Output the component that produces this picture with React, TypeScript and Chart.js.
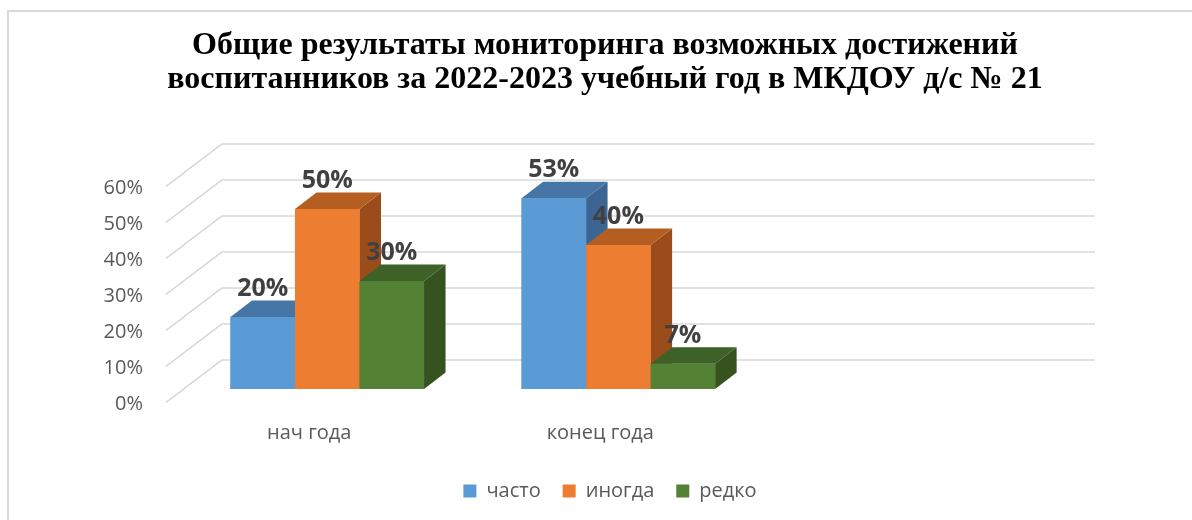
import React, { useEffect, useRef } from 'react';
import { Chart, registerables } from 'chart.js';

Chart.register(...registerables);

const titleLines = [
  'Общие результаты мониторинга возможных достижений',
  'воспитанников за 2022-2023 учебный год в МКДОУ д/с № 21',
];
const categories = ['нач года', 'конец года', ''];
const seriesNames = ['часто', 'иногда', 'редко'];
const chastoValues = [20, 53, null];
const inogdaValues = [50, 40, null];
const redkoValues = [30, 7, null];
const yMin = 0;
const yMax = 60;
const yStep = 10;

const frontColors = ['#5B9BD5', '#ED7D31', '#548235'];
const topColors = ['#4676A5', '#B55E22', '#3E6128'];
const sideColors = ['#3B6592', '#9A4D1B', '#35521F'];

// 3D geometry
const BAR_DX = 21.5;
const BAR_DY = -16.5;
const FLOOR_DX = -16;
const FLOOR_DY = 13.7;
const WALL_DX = 56;
const WALL_DY = -42.7;
const LEGEND_SHIFT = 5;

const threeD = {
  id: 'threeD',
  afterLayout(chart: any) {
    const l = chart.legend;
    if (l) {
      l.left += LEGEND_SHIFT;
      l.right += LEGEND_SHIFT;
    }
  },
  beforeDatasetsDraw(chart: any) {
    const { ctx, chartArea, scales } = chart;
    const y = scales.y;
    ctx.save();
    ctx.strokeStyle = '#D9D9D9';
    ctx.lineWidth = 1.6;
    y.ticks.forEach((t: any) => {
      const yb = y.getPixelForValue(t.value);
      const fx = chartArea.left + FLOOR_DX;
      const fy = yb + FLOOR_DY;
      const bx = fx + WALL_DX;
      const by = fy + WALL_DY;
      const ex = chartArea.right + FLOOR_DX + WALL_DX;
      ctx.beginPath();
      ctx.moveTo(fx, fy);
      ctx.lineTo(bx, by);
      ctx.lineTo(ex, by);
      ctx.stroke();
    });
    ctx.restore();
  },
  afterDatasetsDraw(chart: any) {
    const { ctx } = chart;
    const n = chart.data.datasets.length;
    const count = chart.data.labels.length;
    ctx.save();
    for (let idx = 0; idx < count; idx++) {
      for (let i = 0; i < n; i++) {
        const v = chart.data.datasets[i].data[idx];
        if (v === null || v === undefined) continue;
        const el = chart.getDatasetMeta(i).data[idx];
        const { x, y, base, width } = el.getProps(['x', 'y', 'base', 'width'], true);
        const xl = x - width / 2;
        const xr = x + width / 2;
        ctx.fillStyle = sideColors[i];
        ctx.beginPath();
        ctx.moveTo(xr, y);
        ctx.lineTo(xr + BAR_DX, y + BAR_DY);
        ctx.lineTo(xr + BAR_DX, base + BAR_DY);
        ctx.lineTo(xr, base);
        ctx.closePath();
        ctx.fill();
        ctx.fillStyle = topColors[i];
        ctx.beginPath();
        ctx.moveTo(xl, y);
        ctx.lineTo(xl + BAR_DX, y + BAR_DY);
        ctx.lineTo(xr + BAR_DX, y + BAR_DY);
        ctx.lineTo(xr, y);
        ctx.closePath();
        ctx.fill();
        el.draw(ctx);
      }
    }
    ctx.fillStyle = '#404040';
    ctx.font = "bold 25px 'Open Sans', sans-serif";
    ctx.textAlign = 'center';
    ctx.textBaseline = 'middle';
    for (let i = 0; i < n; i++) {
      const meta = chart.getDatasetMeta(i);
      chart.data.datasets[i].data.forEach((v: any, idx: number) => {
        if (v === null || v === undefined) return;
        const el = meta.data[idx];
        const { x, y } = el.getProps(['x', 'y'], true);
        ctx.fillText(v + '%', x, y + BAR_DY - 11.5);
      });
    }
    ctx.restore();
  },
};

export default function App() {
  const ref = useRef<HTMLCanvasElement>(null);
  useEffect(() => {
    if (!ref.current) return;
    const axisFont = { family: "'Open Sans', sans-serif", size: 20 };
    const chart = new Chart(ref.current, {
      type: 'bar',
      data: {
        labels: categories,
        datasets: [
          { label: seriesNames[0], data: chastoValues, backgroundColor: frontColors[0] },
          { label: seriesNames[1], data: inogdaValues, backgroundColor: frontColors[1] },
          { label: seriesNames[2], data: redkoValues, backgroundColor: frontColors[2] },
        ],
      },
      options: {
        responsive: false,
        animation: false,
        devicePixelRatio: 1,
        layout: { padding: { left: 0, right: 0, top: 0, bottom: 9 } },
        datasets: { bar: { categoryPercentage: 0.665, barPercentage: 1 } },
        plugins: {
          title: {
            display: true,
            text: titleLines,
            color: '#000000',
            font: { family: "'Liberation Serif', 'Times New Roman', serif", size: 32, weight: 'bold', lineHeight: 1.0625 },
            padding: { top: 17, bottom: 76 },
          },
          legend: {
            position: 'bottom',
            labels: {
              boxWidth: 13,
              boxHeight: 13,
              padding: 22,
              color: '#595959',
              font: axisFont,
            },
          },
          tooltip: { enabled: false },
        },
        scales: {
          x: {
            grid: { display: false, drawTicks: false, tickLength: 0 },
            border: { display: false },
            ticks: { color: '#595959', font: axisFont, labelOffset: -18, padding: 32 },
            afterFit: (s: any) => { s.height = 70; },
          },
          y: {
            min: yMin,
            max: yMax,
            grid: { display: false, drawTicks: false, tickLength: 0 },
            border: { display: false },
            ticks: {
              stepSize: yStep,
              color: '#595959',
              font: axisFont,
              labelOffset: FLOOR_DY + 2,
              padding: 38.7,
              callback: (v: any) => v + '%',
            },
            afterFit: (s: any) => { s.width = 172.7; },
          },
          yRight: {
            type: 'linear',
            position: 'right',
            display: true,
            grid: { display: false, drawTicks: false, tickLength: 0 },
            border: { display: false },
            ticks: { display: false },
            afterFit: (s: any) => { s.width = 146; },
          },
        },
      },
      plugins: [threeD],
    } as any);
    return () => chart.destroy();
  }, []);

  return (
    <div style={{ position: 'fixed', left: 0, top: 0, width: 1192, height: 520, overflow: 'hidden', background: '#ffffff' }}>
      <div style={{ position: 'absolute', left: 7, top: 10, width: 1300, height: 700, border: '2px solid #D9D9D9', boxSizing: 'border-box' }} />
      <canvas ref={ref} width={1192} height={508} style={{ position: 'absolute', left: 9, top: 12, width: 1192, height: 508 }} />
    </div>
  );
}
